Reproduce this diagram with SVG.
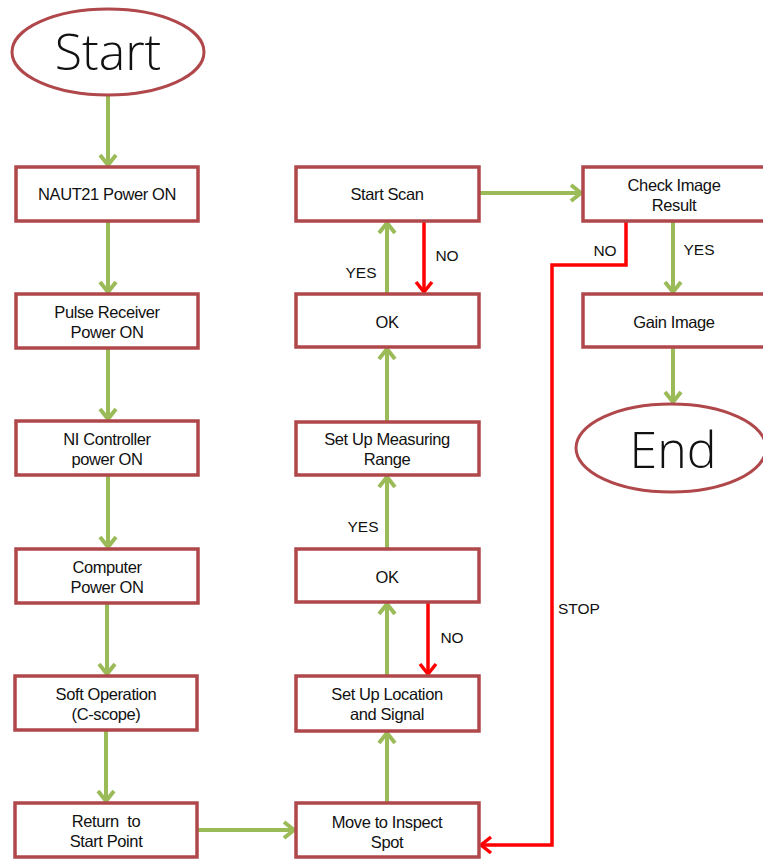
<svg xmlns="http://www.w3.org/2000/svg" width="763" height="860" viewBox="0 0 763 860">
<defs>
<style>
.box{fill:#fff;stroke:#B0474B;stroke-width:3.5}
.oval{fill:#fff;stroke:#B0474B;stroke-width:3}
.t{font-family:"Liberation Sans",Arial,sans-serif;font-size:16.5px;fill:#111;text-anchor:middle;letter-spacing:-0.4px}
.big{font-family:"Open Sans","Liberation Sans",sans-serif;font-size:50px;font-weight:300;fill:#111;text-anchor:middle}
.lbl{font-family:"Liberation Sans",Arial,sans-serif;font-size:15.5px;fill:#111;text-anchor:middle}
.g{fill:none;stroke:#9BBB59;stroke-width:4}
.r{fill:none;stroke:#FF0000;stroke-width:3.5}
</style>
<marker id="ag" markerUnits="userSpaceOnUse" markerWidth="24" markerHeight="24" refX="0" refY="0" viewBox="-14 -12 16 24" orient="auto">
<path d="M-10,-8 L0,0 L-10,8" fill="none" stroke="#9BBB59" stroke-width="4"/>
</marker>
<marker id="ar" markerUnits="userSpaceOnUse" markerWidth="24" markerHeight="24" refX="0" refY="0" viewBox="-14 -12 16 24" orient="auto">
<path d="M-10,-8 L0,0 L-10,8" fill="none" stroke="#FF0000" stroke-width="3.5"/>
</marker>
</defs>
<rect width="763" height="860" fill="#fff"/>
<g id="connectors">
<path class="g" d="M108,95 V165" marker-end="url(#ag)"/>
<path class="g" d="M108,221 V292" marker-end="url(#ag)"/>
<path class="g" d="M108,348 V419" marker-end="url(#ag)"/>
<path class="g" d="M108,475 V547" marker-end="url(#ag)"/>
<path class="g" d="M107,603 V674" marker-end="url(#ag)"/>
<path class="g" d="M106,730 V801" marker-end="url(#ag)"/>
<path class="g" d="M197,830 H294" marker-end="url(#ag)"/>
<path class="g" d="M387,803 V733" marker-end="url(#ag)"/>
<path class="g" d="M387,676 V604" marker-end="url(#ag)"/>
<path class="r" d="M428,602 V674" marker-end="url(#ar)"/>
<path class="g" d="M387,549 V477" marker-end="url(#ag)"/>
<path class="g" d="M387,422 V349" marker-end="url(#ag)"/>
<path class="g" d="M387,294 V223" marker-end="url(#ag)"/>
<path class="r" d="M424,221 V292" marker-end="url(#ar)"/>
<path class="g" d="M479,193 H581" marker-end="url(#ag)"/>
<path class="g" d="M673,221 V292" marker-end="url(#ag)"/>
<path class="g" d="M673,347 V402" marker-end="url(#ag)"/>
<path class="r" d="M626,221 V265 H552 V845 H481" marker-end="url(#ar)"/>
<text class="lbl" x="361" y="278">YES</text>
<text class="lbl" x="447" y="261">NO</text>
<text class="lbl" x="605" y="256">NO</text>
<text class="lbl" x="699" y="255">YES</text>
<text class="lbl" x="363" y="532">YES</text>
<text class="lbl" x="452" y="643">NO</text>
<text class="lbl" x="579" y="614">STOP</text>
</g>
<g id="start"><ellipse class="oval" cx="108" cy="52" rx="96" ry="43"/><text class="big" x="108" y="70">Start</text></g>
<g id="end"><ellipse class="oval" cx="671" cy="448" rx="95" ry="44"/><text class="big" x="673" y="468">End</text></g>
<g id="naut"><rect class="box" x="16" y="167" width="182" height="54"/><text class="t" x="107" y="200">NAUT21 Power ON</text></g>
<g id="pulse"><rect class="box" x="16" y="294" width="182" height="54"/><text class="t" x="107" y="318">Pulse Receiver</text><text class="t" x="107" y="338">Power ON</text></g>
<g id="ni"><rect class="box" x="16" y="421" width="182" height="54"/><text class="t" x="107" y="445">NI Controller</text><text class="t" x="107" y="465">power ON</text></g>
<g id="computer"><rect class="box" x="16" y="549" width="182" height="54"/><text class="t" x="107" y="573">Computer</text><text class="t" x="107" y="593">Power ON</text></g>
<g id="soft"><rect class="box" x="15" y="676" width="182" height="54"/><text class="t" x="106" y="700">Soft Operation</text><text class="t" x="106" y="720">(C-scope)</text></g>
<g id="return"><rect class="box" x="15" y="803" width="182" height="54"/><text class="t" x="106" y="827" xml:space="preserve">Return  to</text><text class="t" x="106" y="847">Start Point</text></g>
<g id="startscan"><rect class="box" x="296" y="167" width="183" height="54"/><text class="t" x="387" y="200">Start Scan</text></g>
<g id="ok1"><rect class="box" x="296" y="294" width="183" height="53"/><text class="t" x="387" y="328">OK</text></g>
<g id="measuring"><rect class="box" x="296" y="422" width="183" height="53"/><text class="t" x="387" y="445">Set Up Measuring</text><text class="t" x="387" y="465">Range</text></g>
<g id="ok2"><rect class="box" x="296" y="549" width="183" height="53"/><text class="t" x="387" y="583">OK</text></g>
<g id="location"><rect class="box" x="296" y="676" width="183" height="55"/><text class="t" x="387" y="700">Set Up Location</text><text class="t" x="387" y="720">and Signal</text></g>
<g id="move"><rect class="box" x="296" y="803" width="183" height="54"/><text class="t" x="387" y="828">Move to Inspect</text><text class="t" x="387" y="848">Spot</text></g>
<g id="check"><rect class="box" x="583" y="167" width="182" height="54"/><text class="t" x="674" y="191">Check Image</text><text class="t" x="674" y="211">Result</text></g>
<g id="gain"><rect class="box" x="583" y="294" width="182" height="53"/><text class="t" x="674" y="328">Gain Image</text></g>
</svg>
